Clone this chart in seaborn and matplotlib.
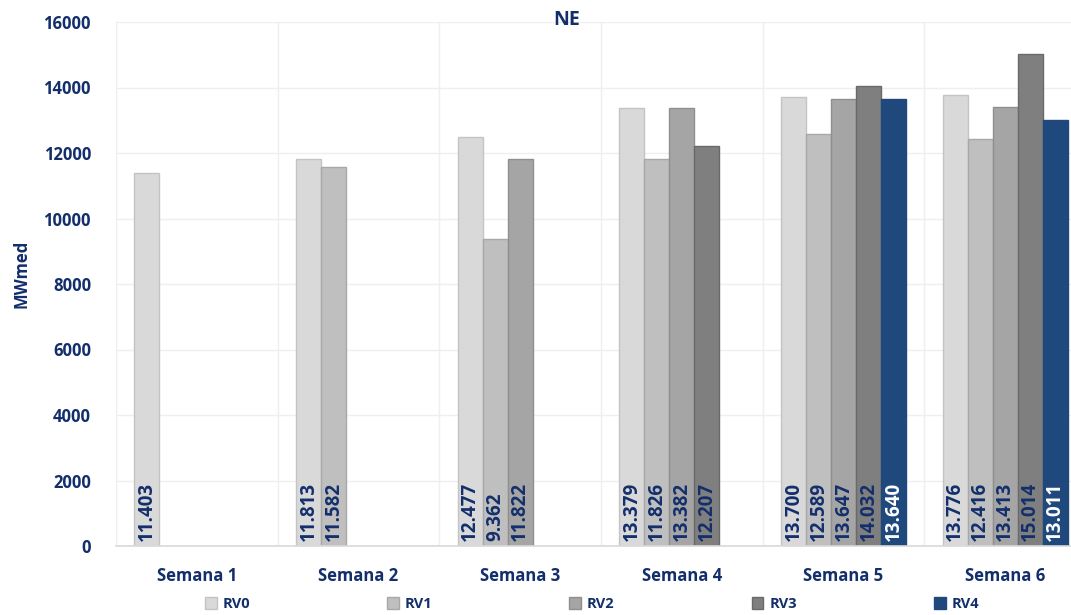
import numpy as np
import pandas as pd
import matplotlib
matplotlib.use('Agg')
import matplotlib.pyplot as plt
import seaborn as sns
from matplotlib.patches import Patch

# Data
semanas = ['Semana 1', 'Semana 2', 'Semana 3', 'Semana 4', 'Semana 5', 'Semana 6']
revisoes = ['RV0', 'RV1', 'RV2', 'RV3', 'RV4']
rv0 = [11403, 11813, 12477, 13379, 13700, 13776]
rv1 = [np.nan, 11582, 9362, 11826, 12589, 12416]
rv2 = [np.nan, np.nan, 11822, 13382, 13647, 13413]
rv3 = [np.nan, np.nan, np.nan, 12207, 14032, 15014]
rv4 = [np.nan, np.nan, np.nan, np.nan, 13640, 13011]

cores = ['#d9d9d9', '#bfbfbf', '#a5a5a5', '#7f7f7f', '#1f497d']
bordas = ['#c4c4c4', '#a8a8a8', '#8f8f8f', '#6a6a6a', '#1f497d']
navy = '#132f6b'

# Long-form table
df = pd.DataFrame({'Semana': semanas * 5,
                   'Revisao': np.repeat(revisoes, len(semanas)),
                   'MWmed': rv0 + rv1 + rv2 + rv3 + rv4})

sns.set_style('white')
plt.rcParams['font.family'] = ['Open Sans', 'DejaVu Sans']

fig = plt.figure(figsize=(10.71, 6.15), dpi=100)
ax = fig.add_axes([116 / 1071, 69 / 615, 970 / 1071, 524 / 615])

sns.barplot(data=df, x='Semana', y='MWmed', hue='Revisao', order=semanas,
            hue_order=revisoes, palette=cores, width=0.774, gap=0,
            saturation=1, linewidth=1, edgecolor='none', legend=False, ax=ax)

# Bar borders + rotated labels at the base of each bar
for i, cont in enumerate(ax.containers):
    for bar in cont:
        h = bar.get_height()
        if np.isnan(h) or h == 0:
            continue
        bar.set_edgecolor(bordas[i])
        txt = f'{h / 1000:.3f}'
        ax.text(bar.get_x() + bar.get_width() / 2, 140, txt, rotation=90,
                ha='center', va='bottom', fontsize=13.5, fontweight='bold',
                color='white' if i == 4 else navy)

ax.set_ylim(0, 16000)
ax.set_yticks(range(0, 16001, 2000))
ax.set_xlim(-0.5, len(semanas) - 0.5)
ax.set_xticks(np.arange(-0.5, len(semanas), 1), minor=True)
ax.grid(axis='y', color='#efefef', linewidth=1)
ax.grid(axis='x', which='minor', color='#efefef', linewidth=1)
ax.set_axisbelow(True)
for s in ['top', 'right', 'left']:
    ax.spines[s].set_visible(False)
ax.spines['bottom'].set_color('#d9d9d9')
ax.spines['bottom'].set_linewidth(1.2)
ax.tick_params(axis='both', which='both', length=0)
ax.tick_params(axis='x', pad=15)
ax.tick_params(axis='y', pad=18)
for lab in ax.get_xticklabels() + ax.get_yticklabels():
    lab.set_fontweight('bold')
    lab.set_color(navy)
    lab.set_fontsize(12)

ax.set_xlabel('')
ax.set_ylabel('MWmed', fontsize=12, fontweight='bold', color=navy)
ax.yaxis.set_label_coords(-0.088, 0.52)

fig.text(567 / 1071, 1 - 20 / 615, 'NE', ha='center', va='center',
         fontsize=14, fontweight='bold', color=navy)

handles = [Patch(facecolor=c, edgecolor=b, label=r) for c, b, r in zip(cores, bordas, revisoes)]
leg = fig.legend(handles=handles, loc='center', ncol=5,
                 bbox_to_anchor=(592 / 1071, 1 - 604 / 615), frameon=False,
                 handlelength=0.8, handleheight=0.8, handletextpad=0.4,
                 columnspacing=9.4, prop={'weight': 'bold', 'size': 10.5})
for t in leg.get_texts():
    t.set_color(navy)

fig.savefig('out.png', dpi=100)
